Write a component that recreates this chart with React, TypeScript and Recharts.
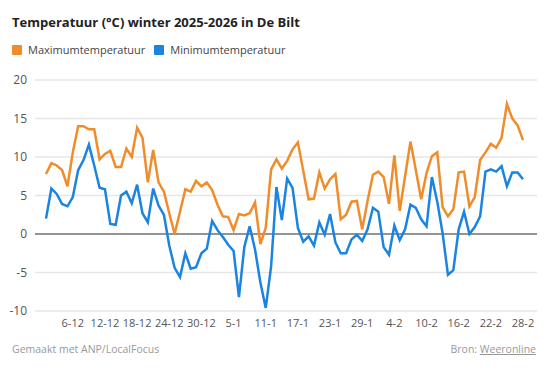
import { LineChart, Line, XAxis, YAxis, CartesianGrid, ReferenceLine } from 'recharts';

// daily max/min in De Bilt, 1 Dec 2025 .. 28 Feb 2026
const maxTemps = [
  7.8, 9.2, 8.9, 8.3, 6.2, 10.6, 14.0, 14.0, 13.6, 13.6,
  9.7, 10.4, 10.8, 8.7, 8.7, 11.1, 10.0, 13.8, 12.5, 6.7,
  10.9, 6.7, 5.5, 2.7, 0.0, 2.9, 5.8, 5.5, 6.9, 6.2,
  6.7, 5.7, 3.8, 2.3, 2.2, 0.5, 2.6, 2.4, 2.7, 4.1,
  -1.3, 0.8, 8.4, 9.7, 8.5, 9.5, 11.0, 11.9, 8.2, 4.5,
  4.6, 8.0, 5.9, 7.1, 7.8, 1.9, 2.5, 4.2, 4.3, 0.6,
  4.3, 7.7, 8.1, 7.4, 3.9, 10.2, 3.0, 7.5, 12.0, 8.3,
  4.5, 7.9, 10.1, 10.6, 3.5, 2.3, 3.2, 8.0, 8.1, 3.6,
  4.8, 9.6, 10.6, 11.7, 11.2, 12.5, 16.9, 15.0, 14.1, 12.2,
];

const minTemps = [
  2.0, 5.9, 5.2, 3.9, 3.6, 4.8, 8.3, 9.6, 11.6, 8.9,
  6.0, 5.8, 1.3, 1.2, 5.0, 5.5, 4.0, 6.4, 2.7, 1.5,
  5.9, 3.7, 2.5, -1.5, -4.4, -5.6, -2.5, -4.5, -4.3, -2.5,
  -1.9, 1.7, 0.5, -0.4, -1.4, -2.2, -8.2, -1.7, 1.0, -2.0,
  -6.3, -9.6, -4.2, 6.1, 1.8, 7.2, 6.0, 0.8, -1.0, -0.3,
  -1.5, 1.5, -0.1, 2.6, -1.1, -2.5, -2.5, -0.7, -0.1, -0.9,
  0.6, 3.4, 2.9, -1.7, -2.7, 1.1, -0.8, 0.6, 3.8, 3.4,
  1.9, 1.0, 7.4, 4.2, 0.1, -5.3, -4.7, 0.6, 2.9, 0.0,
  0.9, 2.3, 8.1, 8.4, 8.1, 8.8, 6.2, 8.0, 8.0, 7.1,
];

const xTicks = ['6-12', '12-12', '18-12', '24-12', '30-12', '5-1', '11-1', '17-1', '23-1', '29-1', '4-2', '10-2', '16-2', '22-2', '28-2'];
const yTicks = [-10, -5, 0, 5, 10, 15, 20];

const monthDays = [
  { month: 12, days: 31 },
  { month: 1, days: 31 },
  { month: 2, days: 28 },
];

const dates: string[] = [];
monthDays.forEach(({ month, days }) => {
  for (let d = 1; d <= days; d++) dates.push(`${d}-${month}`);
});

const data = dates.map((date, i) => ({ date, max: maxTemps[i], min: minTemps[i] }));

const FONT = '"Open Sans", "Noto Sans", sans-serif';
const ORANGE = '#f08c2a';
const BLUE = '#1b84e0';

export default function App() {
  return (
    <div style={{ position: 'absolute', left: 0, top: 0, width: 550, height: 371, background: '#fff', fontFamily: FONT }}>
      <LineChart width={550} height={371} data={data} margin={{ top: 80, right: 13, left: 0, bottom: 0 }}>
        <CartesianGrid vertical={false} stroke="#e6e6e6" strokeWidth={1.5} />
        <XAxis
          dataKey="date"
          ticks={xTicks}
          interval={0}
          height={60}
          axisLine={false}
          tickLine={false}
          padding={{ left: 11, right: 14 }}
          tick={{ fontSize: 11, fill: '#555', fontFamily: FONT }}
        />
        <YAxis
          width={35}
          domain={[-10, 20]}
          ticks={yTicks}
          axisLine={false}
          tickLine={false}
          tick={{ fontSize: 12, fill: '#555', fontFamily: FONT }}
        />
        <ReferenceLine y={0} stroke="#777" strokeWidth={1.5} />
        <Line type="linear" dataKey="max" stroke={ORANGE} strokeWidth={2.5} dot={false} isAnimationActive={false} />
        <Line type="linear" dataKey="min" stroke={BLUE} strokeWidth={2.5} dot={false} isAnimationActive={false} />
      </LineChart>

      <div style={{ position: 'absolute', left: 12, top: 13, fontSize: 13, fontWeight: 700, color: '#222' }}>
        Temperatuur (°C) winter 2025-2026 in De Bilt
      </div>
      <div style={{ position: 'absolute', left: 12, top: 42, fontSize: 11, color: '#444', display: 'flex', alignItems: 'center' }}>
        <span style={{ width: 10, height: 10, background: ORANGE, borderRadius: 1, marginRight: 6 }} />
        <span style={{ marginRight: 9 }}>Maximumtemperatuur</span>
        <span style={{ width: 10, height: 10, background: BLUE, borderRadius: 1, marginRight: 6 }} />
        <span>Minimumtemperatuur</span>
      </div>
      <div style={{ position: 'absolute', left: 12, top: 342, fontSize: 10.5, color: '#999' }}>
        Gemaakt met ANP/LocalFocus
      </div>
      <div style={{ position: 'absolute', right: 14, top: 342, fontSize: 10.5, color: '#999' }}>
        Bron: <span style={{ textDecoration: 'underline' }}>Weeronline</span>
      </div>
    </div>
  );
}
